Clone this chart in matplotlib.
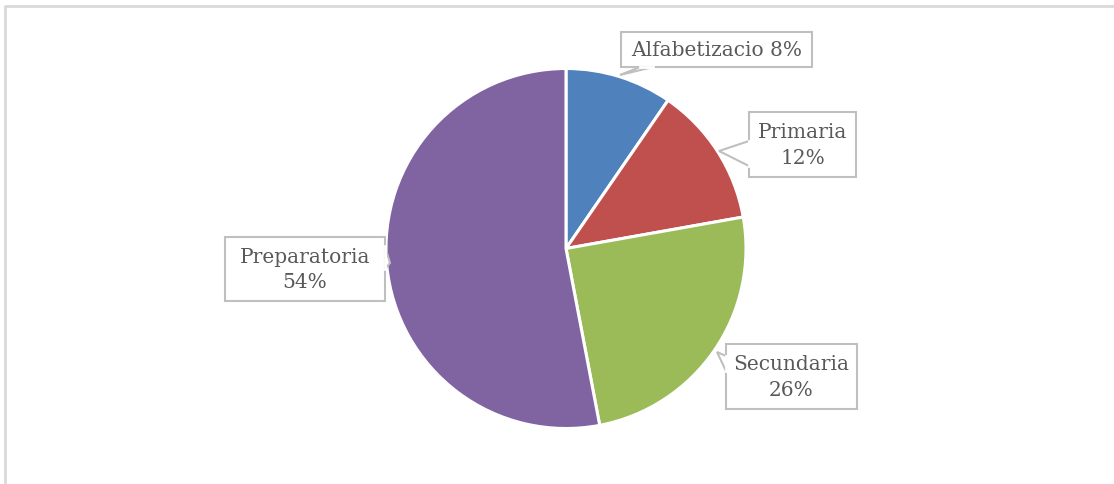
import matplotlib
matplotlib.use("Agg")
import matplotlib.pyplot as plt
from matplotlib.patches import Polygon, Rectangle

# slice sizes as drawn, and the labels printed in the callouts
categories = ["Alfabetizacio", "Primaria", "Secundaria", "Preparatoria"]
shares = [9.6, 12.6, 24.8, 53.0]
pct_labels = ["8%", "12%", "26%", "54%"]
colors = ["#4F81BD", "#C0504D", "#9BBB59", "#8064A2"]

W, H = 1114, 485
fig = plt.figure(figsize=(W / 100, H / 100), dpi=100)
ax = fig.add_axes([0, 0, 1, 1])

# chart border (light grey, open on right and bottom)
ax.plot([5, 5, W + 5], [-5, H - 7, H - 7], color="#D9D9D9", lw=2, solid_capstyle="butt")

cx, cy, r = 566, H - 249.5, 180
ax.pie(shares, colors=colors, startangle=90, counterclock=False,
       center=(cx, cy), radius=r, frame=True,
       wedgeprops=dict(edgecolor="white", linewidth=2.2))
ax.set_xlim(0, W)
ax.set_ylim(0, H)
ax.set_aspect("equal")
ax.axis("off")

# callout boxes: (x0, y_top, x1, y_bottom) in image pixels, pointer polygon
boxes = [
    ((621, 33, 812, 68), [(640, 68), (620, 76), (653, 68)], categories[0] + " " + pct_labels[0]),
    ((749, 113, 856, 178), [(749, 142), (719, 152), (749, 167)], categories[1] + "\n" + pct_labels[1]),
    ((726, 345, 857, 410), [(726, 357), (717, 353), (726, 372)], categories[2] + "\n" + pct_labels[2]),
    ((225, 238, 385, 302), [(385, 247), (390, 264), (385, 270)], categories[3] + "\n" + pct_labels[3]),
]
edge = "#BFBFBF"
for (x0, y0, x1, y1), ptr, txt in boxes:
    ax.add_patch(Rectangle((x0, H - y1), x1 - x0, y1 - y0, facecolor="white",
                           edgecolor=edge, lw=1.5, zorder=5))
    pts = [(px, H - py) for px, py in ptr]
    ax.add_patch(Polygon(pts, closed=False, facecolor="white", edgecolor=edge,
                         lw=1.5, zorder=5))
    # hide the box edge under the pointer base
    ax.plot([pts[0][0], pts[-1][0]], [pts[0][1], pts[-1][1]], color="white", lw=2, zorder=6)
    ax.text((x0 + x1) / 2, H - (y0 + y1) / 2, txt, ha="center", va="center",
            fontsize=14.5, family="DejaVu Serif", color="#595959",
            linespacing=1.45, zorder=7)

fig.savefig("out.png", dpi=100)
